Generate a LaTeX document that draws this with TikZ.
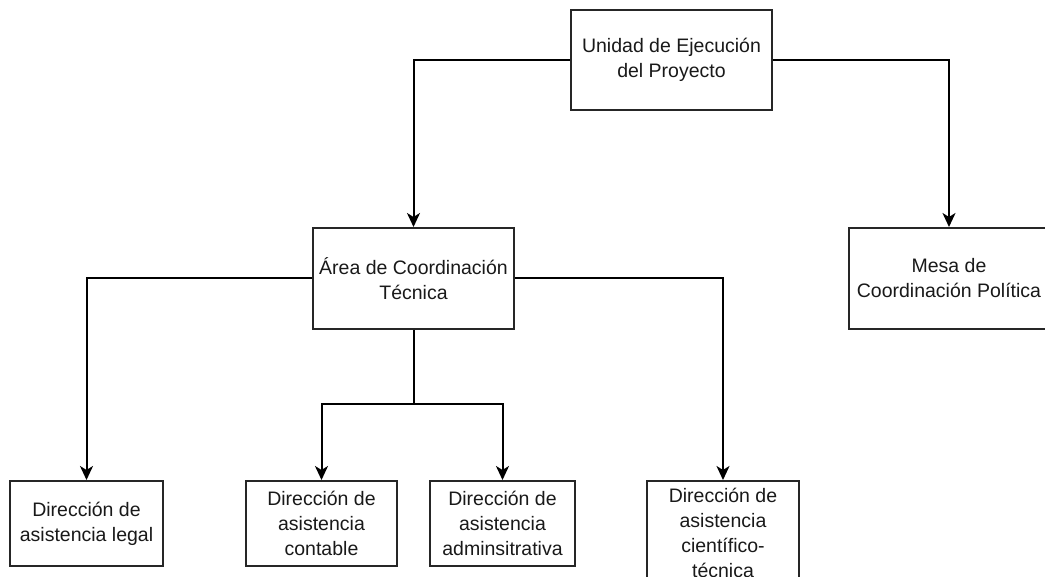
\documentclass[tikz,border=0pt]{standalone}
\usepackage{fontspec}
\setmainfont{Liberation Sans}
\usetikzlibrary{arrows.meta}
\begin{document}
\begin{tikzpicture}[x=1pt,y=-1pt,
  box/.style={draw=black!85,line width=2pt,fill=white,align=center,inner sep=0pt,
    font=\fontsize{19.5pt}{25pt}\selectfont,text=black!90},
  conn/.style={line width=2pt,black,-{Stealth[length=14pt,width=13pt,inset=4pt]}}]
\useasboundingbox (0,0) rectangle (1045,577);
\fill[white] (0,0) rectangle (1045,577);
\node[box,minimum width=201pt,minimum height=100pt] (top) at (671.5,60) {Unidad de Ejecución\\del Proyecto};
\node[box,minimum width=201pt,minimum height=101pt] (mid) at (413.5,278.5) {Área de Coordinación\\Técnica};
\node[box,minimum width=200pt,minimum height=101pt] (mesa) at (949,278.5) {Mesa de\\Coordinación Política};
\node[box,minimum width=153pt,minimum height=85pt] (legal) at (86.5,523.5) {Dirección de\\asistencia legal};
\node[box,minimum width=151pt,minimum height=85pt] (cont) at (321.5,523.5) {Dirección de\\asistencia\\contable};
\node[box,minimum width=145pt,minimum height=85pt] (adm) at (502.5,523.5) {Dirección de\\asistencia\\adminsitrativa};
\node[box,minimum width=152pt,minimum height=104pt] (cien) at (723,533) {Dirección de\\asistencia\\científico-\\técnica};
\coordinate (j) at (413.5,404);
\draw[conn] (top.west) -| (mid.north);
\draw[conn] (top.east) -| (mesa.north);
\draw[conn] (mid.west) -| (legal.north);
\draw[conn] (mid.east) -| (cien.north);
\draw[line width=2pt] (mid.south) -- (j);
\draw[conn] (j) -| (cont.north);
\draw[conn] (j) -| (adm.north);
\end{tikzpicture}
\end{document}
